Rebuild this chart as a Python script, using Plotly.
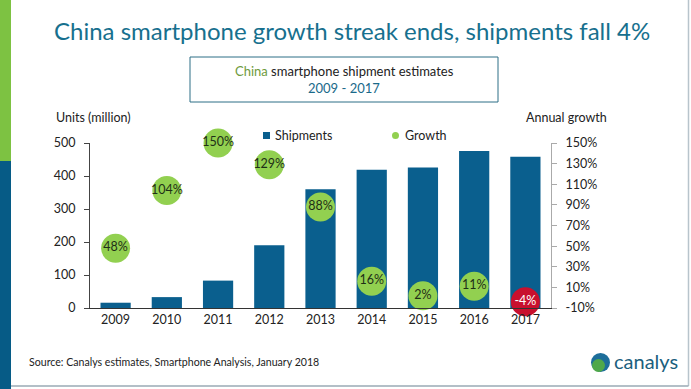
import plotly.graph_objects as go

years = ["2009", "2010", "2011", "2012", "2013", "2014", "2015", "2016", "2017"]
shipments = [16, 33, 83, 190, 360, 419, 426, 476, 458]
growth = [48, 104, 150, 129, 88, 16, 2, 11, -4]
growth_labels = ["48%", "104%", "150%", "129%", "88%", "16%", "2%", "11%", "-4%"]
left_ticks = [0, 100, 200, 300, 400, 500]
right_ticks = [-10, 10, 30, 50, 70, 90, 110, 130, 150]
right_tick_labels = ["-10%", "10%", "30%", "50%", "70%", "90%", "110%", "130%", "150%"]

W, H = 691, 389
L, R, T, B = 90, 551, 143, 308
FONT = "Lato"

def px(x):
    return (x - L) / (R - L)

def py(y):
    return (B - y) / (B - T)

bar_color = "#0A5F8E"
green = "#92D050"
red = "#C8102E"

bubble_colors = [red if g < 0 else green for g in growth]
bubble_text_colors = ["white" if g < 0 else "#1F2F17" for g in growth]

fig = go.Figure()
fig.add_trace(go.Bar(
    x=years, y=shipments, name="Shipments", marker_color=bar_color,
    marker_line_width=0, yaxis="y", showlegend=False,
))
fig.add_trace(go.Scatter(
    x=years, y=growth, name="Growth", yaxis="y2", mode="markers+text",
    marker=dict(size=29, color=bubble_colors, line=dict(width=0)),
    text=growth_labels, textposition="middle center",
    textfont=dict(family=FONT, size=12.5, color=bubble_text_colors),
    cliponaxis=False, showlegend=False,
))

shapes = [
    # left decorative stripes
    dict(type="rect", xref="paper", yref="paper", x0=px(0), x1=px(11), y0=py(0), y1=py(161),
         fillcolor="#7DC242", line_width=0, layer="below"),
    dict(type="rect", xref="paper", yref="paper", x0=px(0), x1=px(11), y0=py(161), y1=py(389),
         fillcolor="#065B86", line_width=0, layer="below"),
    # frame lines
    dict(type="line", xref="paper", yref="paper", x0=px(688.5), x1=px(688.5), y0=py(0), y1=py(386),
         line=dict(color="#B8C4CC", width=1.5)),
    dict(type="line", xref="paper", yref="paper", x0=px(11), x1=px(688.5), y0=py(386), y1=py(386),
         line=dict(color="#9AAAB5", width=1.5)),
    # subtitle box
    dict(type="rect", xref="paper", yref="paper", x0=px(190), x1=px(498), y0=py(57), y1=py(102),
         line=dict(color="#2C6E86", width=1), fillcolor="rgba(0,0,0,0)"),
    # legend symbols
    dict(type="rect", xref="paper", yref="paper", x0=px(263), x1=px(270), y0=py(132), y1=py(139),
         fillcolor=bar_color, line_width=0),
    dict(type="circle", xref="paper", yref="paper", x0=px(392), x1=px(399), y0=py(132), y1=py(139),
         fillcolor=green, line_width=0),
    # logo globe
    dict(type="circle", xref="paper", yref="paper", x0=px(591), x1=px(610), y0=py(353), y1=py(372),
         fillcolor="#1D6E9A", line_width=0),
    dict(type="circle", xref="paper", yref="paper", x0=px(592), x1=px(605), y0=py(359), y1=py(372),
         fillcolor="#4FA84A", line_width=0),
]

annotations = [
    dict(x=px(352), y=py(30), xref="paper", yref="paper", text="China smartphone growth streak ends, shipments fall 4%",
         showarrow=False, font=dict(family=FONT, size=24, color="#17708E"), xanchor="center", yanchor="middle"),
    dict(x=px(344), y=py(71), xref="paper", yref="paper",
         text="<span style='color:#6E9A3C'>China</span> smartphone shipment estimates",
         showarrow=False, font=dict(family=FONT, size=13, color="#222222"), xanchor="center", yanchor="middle"),
    dict(x=px(344), y=py(88), xref="paper", yref="paper", text="2009 - 2017",
         showarrow=False, font=dict(family=FONT, size=13, color="#1A6A8A"), xanchor="center", yanchor="middle"),
    dict(x=px(54), y=py(118), xref="paper", yref="paper", text="Units (million)",
         showarrow=False, font=dict(family=FONT, size=12.5, color="#222222"), xanchor="left", yanchor="middle"),
    dict(x=px(524), y=py(118), xref="paper", yref="paper", text="Annual growth",
         showarrow=False, font=dict(family=FONT, size=12.5, color="#222222"), xanchor="left", yanchor="middle"),
    dict(x=px(273), y=py(135), xref="paper", yref="paper", text="Shipments",
         showarrow=False, font=dict(family=FONT, size=12.5, color="#222222"), xanchor="left", yanchor="middle"),
    dict(x=px(403), y=py(135), xref="paper", yref="paper", text="Growth",
         showarrow=False, font=dict(family=FONT, size=12.5, color="#222222"), xanchor="left", yanchor="middle"),
    dict(x=px(27), y=py(362), xref="paper", yref="paper", text="Source: Canalys estimates, Smartphone Analysis, January 2018",
         showarrow=False, font=dict(family=FONT, size=10.6, color="#222222"), xanchor="left", yanchor="middle"),
    dict(x=px(612), y=py(361), xref="paper", yref="paper", text="canalys",
         showarrow=False, font=dict(family=FONT, size=20, color="#1B5F7E"), xanchor="left", yanchor="middle"),
]

fig.update_layout(
    width=W, height=H,
    margin=dict(l=L, r=W - R, t=T, b=H - B, pad=0),
    paper_bgcolor="white", plot_bgcolor="white",
    bargap=0.41,
    showlegend=False,
    font=dict(family=FONT, size=12.5, color="#222222"),
    xaxis=dict(
        type="category", range=[-0.5, len(years) - 0.5], showline=True, linecolor="#333333", linewidth=1.2,
        ticks="", showgrid=False, zeroline=False,
        tickfont=dict(family=FONT, size=12.5, color="#222222"),
    ),
    yaxis=dict(
        range=[0, 500], tickvals=left_ticks, showline=True, linecolor="#444444", linewidth=1.2,
        ticks="outside", ticklen=5, tickcolor="#444444", showgrid=False, zeroline=False,
        tickfont=dict(family=FONT, size=12.5, color="#222222"), ticklabelstandoff=6,
    ),
    yaxis2=dict(
        range=[-10, 150], tickvals=right_ticks, ticktext=right_tick_labels,
        overlaying="y", side="right", showline=True, linecolor="#AAAAAA", linewidth=1.2,
        ticks="outside", ticklen=5, tickcolor="#AAAAAA", showgrid=False, zeroline=False,
        tickfont=dict(family=FONT, size=12.5, color="#222222"), ticklabelstandoff=6,
    ),
    shapes=shapes,
    annotations=annotations,
)

fig.write_html(
    "out.html",
    config={"displayModeBar": False},
    post_script="document.body.style.margin='0';document.body.style.padding='0';document.body.style.overflow='hidden';",
)
